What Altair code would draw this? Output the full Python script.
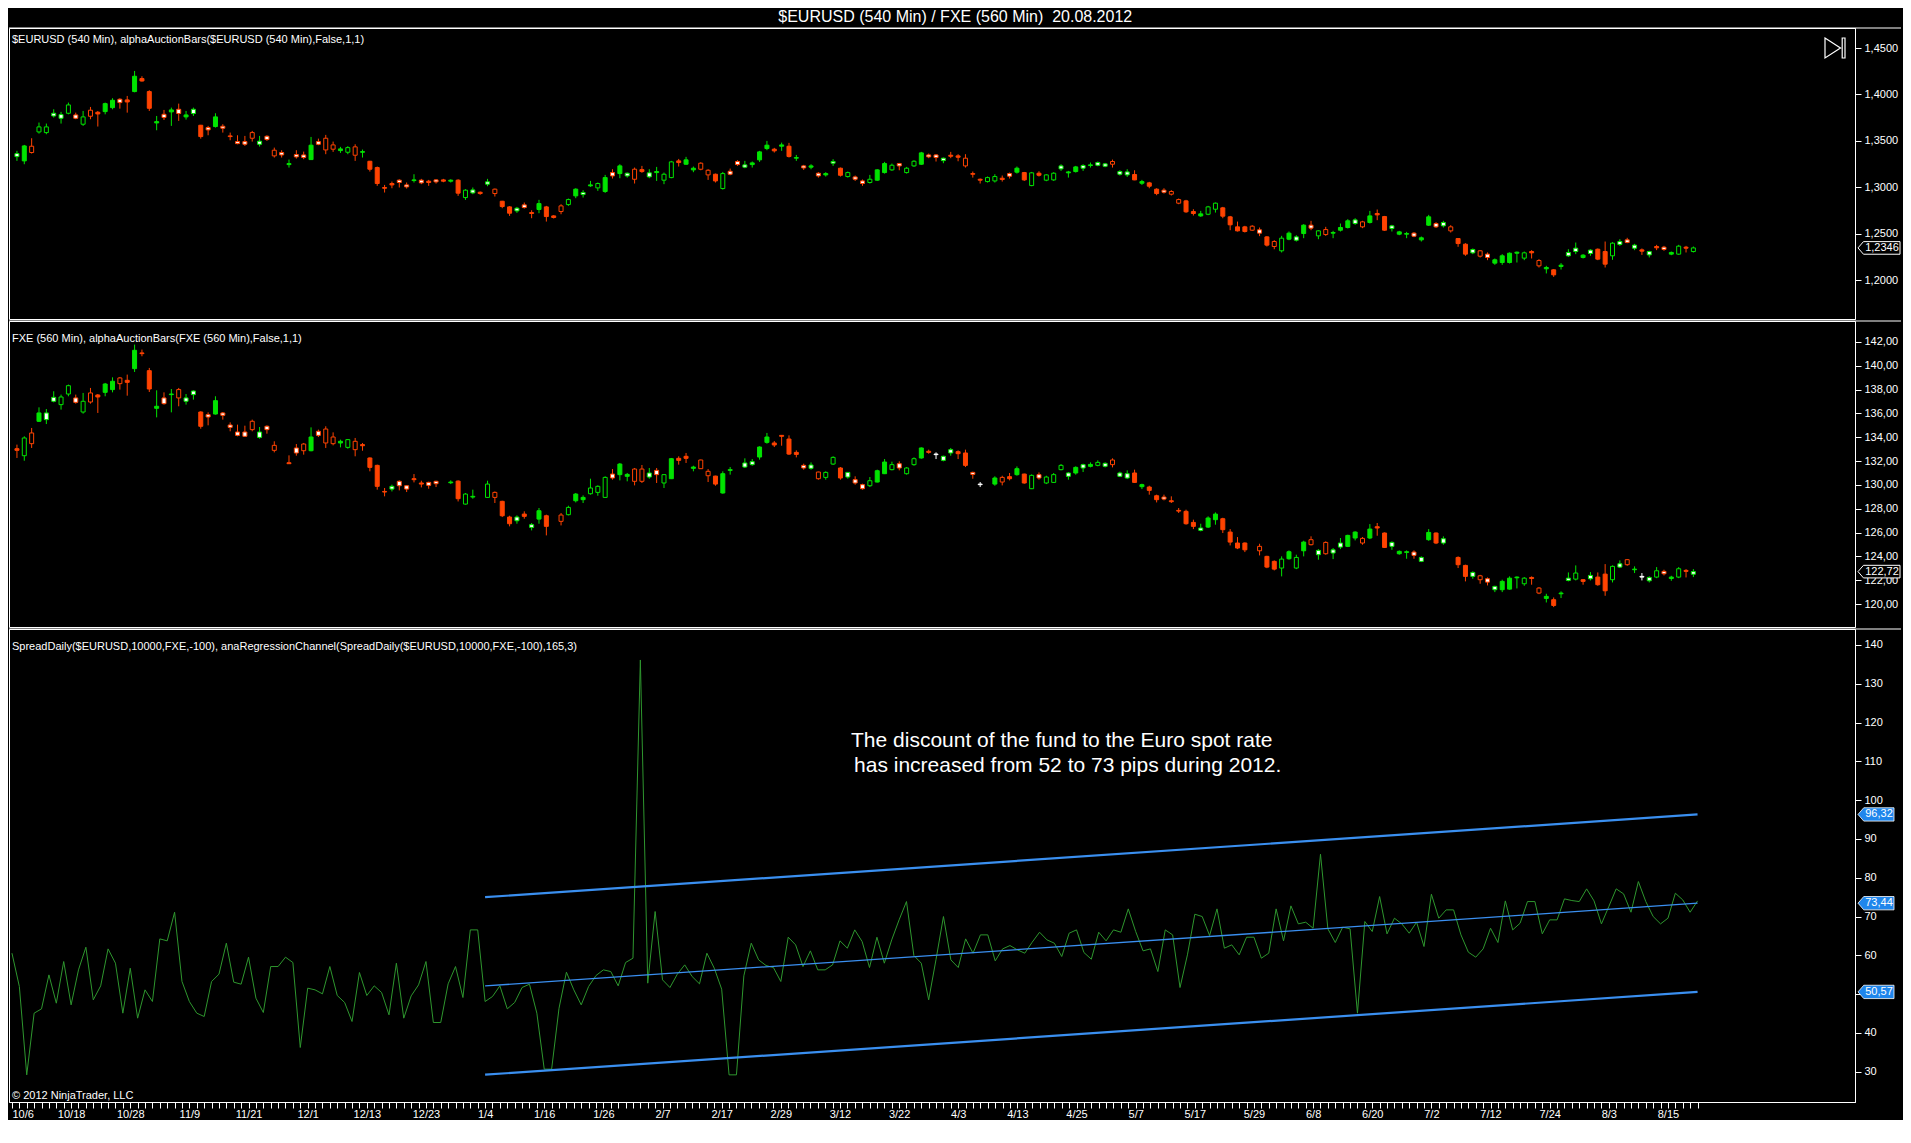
import json
import altair as alt
import pandas as pd

FONT = "Liberation Sans"
TITLE = "$EURUSD (540 Min) / FXE (560 Min)\u00a0 20.08.2012"
EUR_LABEL = "$EURUSD (540 Min), alphaAuctionBars($EURUSD (540 Min),False,1,1)"
FXE_LABEL = "FXE (560 Min), alphaAuctionBars(FXE (560 Min),False,1,1)"
SPREAD_LABEL = "SpreadDaily($EURUSD,10000,FXE,-100), anaRegressionChannel(SpreadDaily($EURUSD,10000,FXE,-100),165,3)"
NOTE_LINES = ["The discount of the fund to the Euro spot rate", "\u00a0has increased from 52 to 73 pips during 2012."]
NOTE_BAR = [142.0, 142.8]
NOTE_VAL = [115.2, 108.8]
COPYRIGHT = "\u00a9 2012 NinjaTrader, LLC"

# date labels, one every 8 bars
x_labels = ["10/6", "10/18", "10/28", "11/9", "11/21", "12/1", "12/13", "12/23", "1/4", "1/16",
            "1/26", "2/7", "2/17", "2/29", "3/12", "3/22", "4/3", "4/13", "4/25", "5/7",
            "5/17", "5/29", "6/8", "6/20", "7/2", "7/12", "7/24", "8/3", "8/15"]
LABEL_STEP = 8
N_BARS = 229

# ---------------- $EURUSD candles ----------------
eur_kind = """gW gF rH gH gH gW gW gH rW gH rH rF gF gF rW rF gF rF rF gF
rW gF rW gF gW rF rW gF rW rF rW rW rH gW rW rH rW gF rW rW
gF rW rH rH gF gH rH gF rF rF rF rF rW rW gF rW rF rW rF gF
rF gH gW rF gW rH rF rF gW rW rF gF rF rF rH gH gF gW gF gH
gF rW gF gW rH rF
gW gF gH gH rF gF gF rH rH rF gH rW rW gW gF gF gF rF gF rF gF rW gF
rW gF gW rF gH rW rW gH gF gF gH rW gH gH gF rW rW gW rF rF
rH rF rF gH gH rF rW gF rF gH rF gH gH gW gF gF gW gF gW gW
rH gW gW rF gF rF rF rW rH rH rF rF gF gH gH rF rF rF rF rH
rW rF rH
gH gF gW gF rW gH rH gF gF gF gW rH gF rF rF gW gF gF rW gF gF rW gW rH rF rF
gW rH rW gF gF gF gF gH rF rH gF rF gF gW gW gF gW rF rF gH
gW rW gW rF gW rF rW gF gH rF gH""".split()

eur_open = [1.3330, 1.3284, 1.3442, 1.3596, 1.3589, 1.3768, 1.3743, 1.3797, 1.3779, 1.3679,
    1.3830, 1.3808, 1.3815, 1.3858, 1.3948, 1.3941, 1.4031, 1.4171, 1.4031, 1.3693,
    1.3786, 1.3812, 1.3840, 1.3758, 1.3794, 1.3668, 1.3643, 1.3654, 1.3657, 1.3553,
    1.3492, 1.3492, 1.3589, 1.3463, 1.3549, 1.3399, 1.3374, 1.3244, 1.3352, 1.3348,
    1.3298, 1.3492, 1.3528, 1.3456, 1.3395, 1.3377, 1.3435, 1.3377, 1.3280, 1.3212,
    1.2997, 1.3040, 1.3076, 1.3025, 1.3072, 1.3076, 1.3065, 1.3079, 1.3079, 1.3065,
    1.3076, 1.2889, 1.2939, 1.2946, 1.3033, 1.2979, 1.2849, 1.2788, 1.2745, 1.2810,
    1.2727, 1.2760, 1.2788, 1.2691, 1.2799, 1.2813, 1.2907, 1.2921, 1.3015, 1.2993,
    1.2954, 1.3158, 1.3147, 1.3122, 1.3194, 1.3190,
    1.3112, 1.3158, 1.3076,
    1.3104, 1.3284, 1.3248, 1.3187, 1.3259, 1.3183, 1.3140, 1.2986, 1.3172, 1.3277,
    1.3216, 1.3244, 1.3295, 1.3417, 1.3410, 1.3442, 1.3442, 1.3313, 1.3230, 1.3216,
    1.3151, 1.3133, 1.3259, 1.3205, 1.3115, 1.3111, 1.3068, 1.3051, 1.3076, 1.3158,
    1.3187, 1.3255, 1.3158, 1.3230, 1.3248, 1.3348, 1.3348, 1.3287, 1.3345, 1.3338,
    1.3313, 1.3147, 1.3086, 1.3061, 1.3068, 1.3097, 1.3147, 1.3162, 1.3158, 1.3018,
    1.3151, 1.3076, 1.3079, 1.3198, 1.3155, 1.3169, 1.3205, 1.3234, 1.3237, 1.3226,
    1.3277, 1.3140, 1.3133, 1.3137, 1.3043, 1.3047, 1.2979, 1.2968, 1.2954, 1.2867,
    1.2853, 1.2738, 1.2691, 1.2709, 1.2763, 1.2778, 1.2681, 1.2573, 1.2573, 1.2580,
    1.2541, 1.2465, 1.2415,
    1.2315, 1.2440, 1.2429, 1.2501, 1.2591, 1.2476,
    1.2544, 1.2505, 1.2537, 1.2566, 1.2609, 1.2627, 1.2620, 1.2717, 1.2684, 1.2555,
    1.2494, 1.2494, 1.2505, 1.2433, 1.2591, 1.2609, 1.2584, 1.2573, 1.2447, 1.2386,
    1.2293, 1.2315, 1.2279, 1.2182, 1.2189, 1.2189, 1.2289, 1.2236, 1.2307, 1.2210,
    1.2121, 1.2110, 1.2146, 1.2261, 1.2307, 1.2243, 1.2286, 1.2332, 1.2307, 1.2261,
    1.2383, 1.2433, 1.2343, 1.2325, 1.2271, 1.2361, 1.2354, 1.2279, 1.2279, 1.2354,
    1.2307]

eur_high = [1.3392, 1.3456, 1.3528, 1.3697, 1.3686, 1.3840, 1.3812, 1.3912, 1.3804, 1.3822,
    1.3865, 1.3822, 1.3912, 1.3959, 1.3959, 1.3984, 1.4253, 1.4196, 1.4045, 1.3768,
    1.3833, 1.3858, 1.3901, 1.3822, 1.3858, 1.3672, 1.3661, 1.3797, 1.3679, 1.3589,
    1.3560, 1.3553, 1.3607, 1.3553, 1.3560, 1.3427, 1.3399, 1.3298, 1.3399, 1.3384,
    1.3542, 1.3524, 1.3564, 1.3492, 1.3435, 1.3442, 1.3463, 1.3406, 1.3284, 1.3223,
    1.3025, 1.3061, 1.3086, 1.3051, 1.3140, 1.3090, 1.3079, 1.3086, 1.3090, 1.3086,
    1.3086, 1.2979, 1.2997, 1.2954, 1.3090, 1.2986, 1.2853, 1.2796, 1.2788, 1.2835,
    1.2752, 1.2864, 1.2799, 1.2699, 1.2817, 1.2878, 1.2989, 1.2968, 1.3068, 1.3051,
    1.3133, 1.3194, 1.3248, 1.3158, 1.3212, 1.3230,
    1.3194, 1.3219, 1.3158,
    1.3284, 1.3305, 1.3327, 1.3223, 1.3269, 1.3194, 1.3147, 1.3165, 1.3201, 1.3291,
    1.3284, 1.3277, 1.3392, 1.3499, 1.3424, 1.3481, 1.3478, 1.3348, 1.3241, 1.3248,
    1.3162, 1.3162, 1.3302, 1.3212, 1.3169, 1.3126, 1.3083, 1.3133, 1.3194, 1.3273,
    1.3255, 1.3262, 1.3219, 1.3291, 1.3381, 1.3363, 1.3356, 1.3320, 1.3381, 1.3356,
    1.3356, 1.3169, 1.3094, 1.3115, 1.3140, 1.3126, 1.3158, 1.3223, 1.3165, 1.3165,
    1.3172, 1.3140, 1.3162, 1.3248, 1.3176, 1.3230, 1.3248, 1.3266, 1.3277, 1.3262,
    1.3298, 1.3183, 1.3194, 1.3183, 1.3079, 1.3058, 1.2989, 1.2989, 1.2968, 1.2878,
    1.2864, 1.2763, 1.2745, 1.2799, 1.2835, 1.2788, 1.2691, 1.2630, 1.2584, 1.2591,
    1.2566, 1.2473, 1.2429,
    1.2476, 1.2523, 1.2483, 1.2602, 1.2638, 1.2537,
    1.2573, 1.2530, 1.2609, 1.2656, 1.2666, 1.2638, 1.2745, 1.2760, 1.2691, 1.2595,
    1.2530, 1.2519, 1.2516, 1.2469, 1.2702, 1.2623, 1.2638, 1.2591, 1.2451, 1.2397,
    1.2340, 1.2322, 1.2297, 1.2232, 1.2279, 1.2297, 1.2307, 1.2307, 1.2322, 1.2225,
    1.2153, 1.2117, 1.2182, 1.2332, 1.2404, 1.2279, 1.2332, 1.2340, 1.2415, 1.2408,
    1.2440, 1.2455, 1.2390, 1.2340, 1.2315, 1.2379, 1.2368, 1.2307, 1.2379, 1.2368,
    1.2361]

eur_low = [1.3284, 1.3248, 1.3363, 1.3578, 1.3571, 1.3751, 1.3686, 1.3786, 1.3733, 1.3661,
    1.3733, 1.3654, 1.3786, 1.3840, 1.3847, 1.3804, 1.4023, 1.4138, 1.3822, 1.3614,
    1.3725, 1.3661, 1.3715, 1.3729, 1.3768, 1.3524, 1.3560, 1.3643, 1.3589, 1.3506,
    1.3463, 1.3445, 1.3492, 1.3438, 1.3499, 1.3320, 1.3320, 1.3212, 1.3309, 1.3302,
    1.3295, 1.3453, 1.3356, 1.3381, 1.3370, 1.3356, 1.3284, 1.3320, 1.3169, 1.3015,
    1.2943, 1.2989, 1.2997, 1.2986, 1.3051, 1.3033, 1.3015, 1.3040, 1.3054, 1.3051,
    1.2907, 1.2864, 1.2925, 1.2918, 1.3011, 1.2900, 1.2774, 1.2691, 1.2724, 1.2770,
    1.2666, 1.2720, 1.2630, 1.2663, 1.2709, 1.2799, 1.2882, 1.2889, 1.3004, 1.2961,
    1.2939, 1.3094, 1.3097, 1.3104, 1.3040, 1.3155,
    1.3097, 1.3068, 1.3033,
    1.3097, 1.3223, 1.3241, 1.3162, 1.3183, 1.3079, 1.3051, 1.2975, 1.3129, 1.3230,
    1.3205, 1.3212, 1.3273, 1.3399, 1.3374, 1.3392, 1.3320, 1.3284, 1.3187, 1.3194,
    1.3104, 1.3115, 1.3230, 1.3115, 1.3104, 1.3068, 1.3015, 1.3040, 1.3068, 1.3147,
    1.3176, 1.3183, 1.3147, 1.3219, 1.3241, 1.3313, 1.3277, 1.3259, 1.3313, 1.3280,
    1.3212, 1.3104, 1.3040, 1.3051, 1.3051, 1.3061, 1.3094, 1.3147, 1.3068, 1.3011,
    1.3115, 1.3065, 1.3068, 1.3176, 1.3104, 1.3158, 1.3176, 1.3212, 1.3226, 1.3216,
    1.3212, 1.3126, 1.3111, 1.3076, 1.3025, 1.2989, 1.2914, 1.2932, 1.2911, 1.2817,
    1.2724, 1.2695, 1.2681, 1.2699, 1.2727, 1.2666, 1.2537, 1.2523, 1.2512, 1.2530,
    1.2473, 1.2361, 1.2332,
    1.2297, 1.2429, 1.2415, 1.2451, 1.2537, 1.2440,
    1.2476, 1.2451, 1.2523, 1.2555, 1.2595, 1.2559, 1.2609, 1.2645, 1.2530, 1.2523,
    1.2483, 1.2451, 1.2462, 1.2415, 1.2584, 1.2562, 1.2566, 1.2512, 1.2358, 1.2261,
    1.2279, 1.2243, 1.2214, 1.2164, 1.2164, 1.2178, 1.2189, 1.2214, 1.2232, 1.2135,
    1.2071, 1.2034, 1.2113, 1.2250, 1.2279, 1.2232, 1.2261, 1.2214, 1.2135, 1.2218,
    1.2368, 1.2397, 1.2322, 1.2271, 1.2243, 1.2322, 1.2315, 1.2268, 1.2271, 1.2297,
    1.2297]

eur_close = [1.3363, 1.3445, 1.3374, 1.3650, 1.3650, 1.3797, 1.3783, 1.3887, 1.3743, 1.3758,
    1.3765, 1.3790, 1.3901, 1.3937, 1.3912, 1.3919, 1.4196, 1.4145, 1.3851, 1.3707,
    1.3751, 1.3833, 1.3794, 1.3779, 1.3840, 1.3546, 1.3618, 1.3758, 1.3636, 1.3546,
    1.3470, 1.3463, 1.3528, 1.3496, 1.3514, 1.3338, 1.3348, 1.3255, 1.3327, 1.3320,
    1.3453, 1.3463, 1.3402, 1.3410, 1.3413, 1.3427, 1.3345, 1.3384, 1.3194, 1.3040,
    1.2989, 1.3025, 1.3051, 1.3004, 1.3079, 1.3047, 1.3051, 1.3058, 1.3065, 1.3076,
    1.2936, 1.2968, 1.2971, 1.2932, 1.3058, 1.2932, 1.2792, 1.2720, 1.2774, 1.2781,
    1.2717, 1.2824, 1.2684, 1.2674, 1.2738, 1.2867, 1.2979, 1.2943, 1.3025, 1.3040,
    1.3104, 1.3122, 1.3230, 1.3151, 1.3086, 1.3169,
    1.3155, 1.3169, 1.3140,
    1.3273, 1.3266, 1.3295, 1.3205, 1.3194, 1.3133, 1.3068, 1.3147, 1.3140, 1.3244,
    1.3241, 1.3262, 1.3381, 1.3453, 1.3392, 1.3456, 1.3331, 1.3320, 1.3208, 1.3230,
    1.3122, 1.3147, 1.3277, 1.3129, 1.3158, 1.3086, 1.3040, 1.3086, 1.3187, 1.3255,
    1.3237, 1.3230, 1.3205, 1.3280, 1.3370, 1.3327, 1.3320, 1.3313, 1.3334, 1.3323,
    1.3230, 1.3140, 1.3076, 1.3104, 1.3115, 1.3083, 1.3119, 1.3205, 1.3079, 1.3155,
    1.3129, 1.3133, 1.3151, 1.3230, 1.3165, 1.3219, 1.3234, 1.3241, 1.3266, 1.3252,
    1.3248, 1.3169, 1.3165, 1.3079, 1.3061, 1.3011, 1.2932, 1.2946, 1.2925, 1.2828,
    1.2735, 1.2717, 1.2713, 1.2788, 1.2828, 1.2688, 1.2595, 1.2530, 1.2523, 1.2537,
    1.2505, 1.2376, 1.2361,
    1.2451, 1.2505, 1.2465, 1.2591, 1.2559, 1.2530,
    1.2490, 1.2512, 1.2566, 1.2638, 1.2648, 1.2573, 1.2691, 1.2702, 1.2537, 1.2584,
    1.2519, 1.2501, 1.2472, 1.2455, 1.2681, 1.2573, 1.2620, 1.2530, 1.2393, 1.2279,
    1.2329, 1.2257, 1.2243, 1.2218, 1.2261, 1.2289, 1.2300, 1.2293, 1.2293, 1.2153,
    1.2135, 1.2056, 1.2160, 1.2297, 1.2343, 1.2268, 1.2322, 1.2225, 1.2171, 1.2397,
    1.2415, 1.2404, 1.2376, 1.2311, 1.2307, 1.2347, 1.2329, 1.2297, 1.2365, 1.2343,
    1.2346]

# ---------------- FXE candles (None = no bar) ----------------
fxe_kind = """rF gH rH gF gW gW gH gH rW gH rH rF gF gF rH rF gF rF rF gF
rW gF rH gW gW rF rW gF rW rW rW rW rH gW rW rH -- rF rW rH
gF rW rH rH gF gH rH rF rF rF rF gW rW rW rF rF rW rW -- gF
rF gH gF -- gH rH rF rF gW rF gW gF rF -- rH gH gF gF gH gH
gH rW gF gF rH rH
gW rW gH gF rF rF gF rH rH rF gF gF -- gW gW gF gF rF rF rF rF rW gW
rH gH gH rF gW rW rW gH gF gF gH rW gH gH gF rF wF gW gW rF
rF rW wF -- gF rH rF gF rF gH rW gH gH gH gW gF gW gF gH gW
rH gW gW rF gF rF rF rW rF rF rF rF gW gF gF rF rF rF rF --
rH rF rF
gH gF gH gF rH gW rH gW gW gF gF rH gF rF rF gW gF gF rW gW gF rF gW -- rF rF
gW rH rW gW gF gF gF gH rF rH gF rF gF gW gH rF gW rF rF gH
gW rH gF wF gW gH rW gF gH rF gW""".split()

fxe_open = [133.04, 132.45, 134.36, 135.34, 135.48, 137.02, 136.74, 137.63, 137.30, 136.12,
    137.72, 137.55, 137.77, 138.00, 138.98, 138.78, 139.76, 141.08, 139.59, 136.43,
    137.30, 137.58, 138.00, 137.02, 137.58, 136.12, 135.90, 135.95, 136.04, 135.03,
    134.44, 134.44, 135.34, 133.99, 134.92, 133.32, None, 131.86, 133.10, 133.43,
    132.87, 134.50, 134.69, 134.02, 133.52, 133.15, 133.66, 133.38, 132.26, 131.64,
    129.45, 129.65, 130.30, 129.93, 130.52, 130.16, 130.21, 130.30, None, 130.18,
    130.32, 128.39, 128.98, None, 128.95, 129.37, 128.62, 127.30, 126.99, 127.55,
    126.43, 127.13, 127.41, None, 127.47, 127.50, 128.67, 128.76, 129.26, 129.37,
    128.95, 130.91, 130.86, 130.72, 131.33, 131.33,
    130.66, 131.22, 130.16,
    130.52, 132.23, 132.40, 131.39, 132.09, 131.14, 130.74, 129.32, 131.22, None,
    131.50, 131.70, 132.34, 133.57, 133.52, 134.16, 133.85, 132.73, 131.64, 131.39,
    131.08, 130.63, 131.75, 131.42, 130.66, 130.44, 130.02, 129.93, 130.24, 130.94,
    131.28, 131.78, 130.94, 131.70, 132.26, 132.82, 132.59, 132.06, 132.68, 132.79,
    132.68, 131.05, 130.07, None, 130.07, 130.63, 130.69, 130.86, 130.91, 129.68,
    130.86, 130.16, 130.21, 131.28, 130.72, 131.00, 131.42, 131.56, 131.64, 131.56,
    132.09, 130.72, 130.58, 131.00, 129.85, 129.82, 129.09, 128.98, 128.67, 127.86,
    127.78, 126.85, 126.18, 126.46, 127.08, 127.16, 126.04, 125.12, 125.12, None,
    124.84, 124.00, 123.58,
    123.02, 123.80, 123.02, 124.47, 125.40, 124.14,
    125.17, 124.28, 124.78, 124.84, 125.54, 125.51, 125.54, 126.49, 125.96, 124.84,
    124.22, 124.33, 124.36, 123.58, 125.40, 125.96, 125.12, None, 123.91, 123.24,
    122.32, 122.37, 122.12, 121.20, 121.20, 121.25, 122.20, 121.70, 122.23, 121.34,
    120.47, 120.36, 120.86, 121.98, 122.09, 122.04, 122.12, 122.26, 122.51, 122.04,
    123.10, 123.72, 122.88, 122.32, 121.95, 122.26, 122.74, 122.14, 122.26, 122.82,
    122.50]

fxe_high = [133.38, 134.08, 134.78, 136.51, 136.37, 137.86, 137.58, 138.42, 137.58, 137.72,
    138.14, 137.63, 138.56, 139.03, 139.06, 139.26, 141.78, 141.36, 139.82, 137.94,
    137.77, 138.05, 138.14, 137.63, 137.94, 136.18, 136.09, 137.44, 136.12, 135.25,
    135.06, 134.97, 135.48, 134.86, 135.00, 133.66, None, 132.48, 133.43, 133.52,
    134.83, 134.64, 134.92, 134.41, 133.80, 133.85, 133.94, 133.52, 132.31, 131.70,
    129.74, 130.02, 130.38, 129.96, 130.91, 130.35, 130.27, 130.35, None, 130.38,
    130.38, 129.32, 129.60, None, 130.35, 129.45, 128.67, 127.41, 127.44, 127.78,
    126.80, 128.06, 127.50, None, 127.64, 128.25, 129.32, 129.12, 130.52, 129.96,
    130.72, 131.33, 131.84, 131.00, 131.42, 131.67,
    131.42, 131.42, 130.91,
    132.26, 132.40, 132.68, 131.61, 132.12, 131.33, 130.77, 131.14, 131.50, None,
    132.23, 132.17, 133.24, 134.36, 133.68, 134.19, 134.16, 132.90, 131.78, 131.89,
    131.11, 131.14, 132.40, 131.50, 131.08, 130.72, 130.10, 130.66, 131.28, 132.17,
    131.95, 131.98, 131.50, 132.31, 133.15, 132.96, 132.73, 132.45, 133.10, 132.90,
    132.96, 131.11, 130.24, None, 130.72, 130.77, 131.00, 131.55, 130.94, 130.88,
    131.05, 130.77, 131.00, 131.75, 131.08, 131.56, 131.78, 131.89, 132.06, 131.89,
    132.23, 131.11, 131.22, 131.28, 130.10, 129.93, 129.18, 129.18, 129.04, 128.06,
    127.92, 127.08, 126.74, 127.36, 127.69, 127.24, 126.29, 125.62, 125.17, None,
    125.06, 124.05, 123.66,
    124.00, 124.50, 124.14, 125.31, 125.68, 124.61,
    125.26, 124.70, 125.54, 125.82, 126.10, 125.62, 126.71, 126.80, 126.01, 125.26,
    124.50, 124.50, 124.50, 124.00, 126.29, 126.01, 125.68, None, 124.00, 123.30,
    122.74, 122.45, 122.23, 121.53, 122.04, 122.32, 122.32, 122.26, 122.32, 121.42,
    120.86, 120.55, 121.06, 122.65, 123.24, 122.09, 122.68, 122.65, 123.35, 123.24,
    123.66, 123.77, 123.16, 122.60, 122.32, 123.10, 122.88, 122.37, 123.10, 122.93,
    122.93]

fxe_low = [132.26, 132.03, 133.10, 135.28, 135.11, 136.93, 136.32, 137.44, 136.82, 135.98,
    136.82, 136.04, 137.44, 137.77, 138.00, 137.49, 139.48, 140.80, 137.80, 135.67,
    136.74, 136.09, 136.60, 136.74, 137.16, 134.72, 135.00, 135.90, 135.48, 134.50,
    134.08, 134.02, 134.50, 133.88, 134.30, 132.73, None, 131.78, 132.45, 132.54,
    132.82, 134.02, 133.10, 133.32, 133.15, 133.04, 132.40, 132.87, 131.14, 129.60,
    129.04, 129.45, 129.54, 129.40, 130.21, 129.79, 129.68, 129.82, None, 130.07,
    128.61, 128.34, 128.84, None, 128.90, 128.48, 127.30, 126.52, 126.74, 127.16,
    126.18, 126.74, 125.76, None, 126.60, 127.44, 128.53, 128.48, 129.18, 129.09,
    128.90, 130.44, 130.38, 130.30, 129.96, 130.16,
    130.52, 130.16, 129.74,
    130.49, 131.70, 131.84, 131.14, 131.33, 130.24, 129.93, 129.26, 130.86, None,
    131.42, 131.61, 132.12, 133.46, 133.18, 133.29, 132.51, 132.31, 131.28, 131.28,
    130.44, 130.44, 131.67, 130.44, 130.52, 130.02, 129.60, 129.82, 130.21, 130.91,
    131.22, 131.22, 130.86, 131.61, 132.20, 132.62, 132.17, 131.98, 132.45, 132.17,
    131.50, 130.52, 129.82, None, 129.93, 129.96, 130.38, 130.77, 130.10, 129.65,
    130.44, 130.07, 130.16, 131.22, 130.44, 130.86, 131.08, 131.47, 131.56, 131.47,
    131.47, 130.66, 130.49, 130.16, 129.65, 129.18, 128.53, 128.70, 128.48, 127.64,
    126.66, 126.29, 126.10, 126.38, 126.66, 125.96, 124.92, 124.61, 124.36, None,
    124.08, 123.01, 122.82,
    122.32, 123.72, 122.93, 124.00, 124.92, 123.72,
    124.14, 123.77, 124.61, 124.78, 125.34, 124.98, 125.45, 125.73, 124.70, 124.55,
    124.14, 123.80, 123.80, 123.52, 125.31, 125.03, 124.98, None, 123.02, 121.90,
    122.12, 121.70, 121.56, 121.00, 121.00, 121.20, 121.31, 121.53, 121.62, 120.83,
    120.13, 119.74, 120.50, 121.90, 121.98, 121.62, 121.98, 121.53, 120.69, 121.81,
    123.02, 123.21, 122.60, 121.98, 121.81, 122.17, 122.40, 121.95, 122.17, 122.23,
    122.26]

fxe_close = [132.90, 133.94, 133.46, 136.04, 136.04, 137.35, 137.38, 138.33, 136.93, 137.02,
    136.96, 137.38, 138.47, 138.70, 138.50, 138.61, 141.30, 141.02, 138.05, 136.60,
    136.82, 137.63, 137.30, 137.30, 137.88, 134.92, 135.70, 137.07, 135.84, 134.83,
    134.16, 134.08, 134.64, 134.44, 134.64, 132.90, None, 131.78, 132.68, 132.87,
    134.02, 134.16, 133.52, 133.46, 133.66, 133.80, 132.96, 133.29, 131.47, 129.88,
    129.40, 129.88, 129.93, 129.65, 130.44, 130.07, 129.96, 130.10, None, 130.24,
    128.84, 129.23, 129.04, None, 130.07, 128.95, 127.41, 126.74, 127.30, 127.36,
    126.66, 127.83, 126.52, None, 126.94, 128.11, 129.23, 128.95, 129.74, 129.88,
    130.63, 130.58, 131.75, 130.88, 130.30, 130.30,
    131.00, 130.86, 130.86,
    132.20, 132.06, 132.23, 131.50, 131.36, 130.77, 130.07, 130.94, 131.28, None,
    131.84, 131.95, 133.18, 134.02, 133.35, 134.08, 132.59, 132.56, 131.42, 131.67,
    130.52, 131.05, 132.31, 130.58, 131.05, 130.16, 129.68, 130.35, 131.19, 131.92,
    131.70, 131.42, 131.42, 132.20, 133.10, 132.73, 132.54, 132.40, 132.96, 132.62,
    131.64, 130.88, 130.02, None, 130.58, 130.24, 130.52, 131.36, 130.16, 130.80,
    130.58, 130.66, 130.86, 131.64, 131.00, 131.47, 131.70, 131.72, 131.89, 131.81,
    131.70, 131.00, 130.94, 130.21, 130.02, 129.54, 128.76, 128.81, 128.59, 127.80,
    126.74, 126.52, 126.38, 127.22, 127.55, 126.24, 125.20, 124.70, 124.55, None,
    124.47, 123.10, 122.93,
    123.77, 124.39, 123.91, 125.20, 124.98, 124.50,
    124.22, 124.55, 125.12, 125.76, 126.04, 125.12, 126.29, 126.38, 124.75, 125.17,
    124.42, 124.39, 124.08, 123.91, 126.01, 125.12, 125.48, None, 123.30, 122.32,
    122.65, 122.04, 121.84, 121.48, 121.90, 122.17, 122.26, 122.17, 122.14, 120.92,
    120.64, 119.88, 120.92, 122.17, 122.60, 121.90, 122.40, 121.62, 121.11, 123.16,
    123.38, 123.30, 122.93, 122.26, 122.23, 122.79, 122.54, 122.26, 122.96, 122.74,
    122.72]

# ---------------- Spread (pips) ----------------
spread = [60.55, 51.96, 29.19, 45.09, 46.20, 54.96, 47.66, 58.40, 47.23, 56.25,
    62.09, 48.52, 52.13, 61.66, 57.97, 45.09, 56.68, 43.80, 51.10, 48.09,
    64.24, 63.73, 71.11, 53.25, 48.09, 45.09, 44.23, 53.25, 55.14, 63.13,
    53.08, 52.56, 59.52, 48.95, 45.26, 57.11, 57.11, 59.52, 58.14, 36.24,
    51.53, 51.10, 50.07, 57.11, 49.64, 47.84, 42.94, 55.57, 49.64, 52.13,
    50.41, 44.66, 57.97, 43.80, 49.55, 52.39, 58.40, 42.68, 42.68, 52.65,
    57.11, 49.12, 66.56, 66.56, 48.09, 49.38, 52.13, 46.20, 47.84, 51.70,
    52.56, 45.09, 30.66, 30.66, 46.37, 55.65, 51.10, 47.23, 51.96, 54.79,
    56.25, 55.82, 52.13, 58.14, 59.26, 136.14,
    52.82, 71.29, 53.68, 51.70, 55.14, 57.54, 54.54, 52.65, 60.55, 56.68,
    51.27, 29.19, 29.19, 54.71, 63.13, 58.83, 57.37, 56.85, 53.25, 64.67,
    62.70, 57.11, 61.15, 56.25, 56.25, 57.54, 63.73, 61.84, 66.56, 63.55,
    56.85, 64.67, 57.97, 63.98, 69.14, 73.86, 59.95, 57.97, 48.52, 59.00,
    70.00, 58.83, 56.85, 64.24, 60.55, 65.27, 65.27, 58.57, 61.66, 62.52,
    61.41, 60.55, 63.38, 65.96, 63.98, 63.13, 59.69, 65.70, 66.56, 60.72,
    59.00, 65.96, 63.73, 66.56, 65.96, 71.97, 66.13, 61.15, 61.66, 55.82,
    66.56, 65.27, 51.70, 60.12, 70.60, 70.00, 65.10, 71.97, 61.84, 62.70,
    60.12, 64.67, 64.67, 59.26, 60.55, 71.97,
    63.73, 72.75, 68.11, 68.54, 66.99, 86.06, 66.82, 63.30, 67.25, 66.82,
    45.09, 68.71, 66.13, 75.15, 65.53, 69.57, 68.11, 65.70, 68.54, 62.27,
    75.75, 69.57, 71.72, 71.72, 65.27, 60.81, 59.52, 61.66, 66.99, 63.30,
    74.03, 66.56, 68.28, 73.86, 73.86, 65.53, 69.14, 69.14, 74.55, 74.12,
    73.86, 77.13, 74.03, 68.11, 72.57, 77.13, 75.84, 71.11, 79.02, 73.86,
    70.00, 68.11, 69.57, 76.01, 74.29, 71.11, 74.03]

# regression channel over the last 165 bars
channel_bars = [64, 228]
channel_mid = [52.10, 73.44]
channel_upper = [74.98, 96.32]
channel_lower = [29.23, 50.57]

eur_last = [1.2346]
eur_last_text = ["1,2346"]
fxe_last = [122.72]
fxe_last_text = ["122,72"]
channel_badges = [96.32, 73.44, 50.57]
channel_badges_text = ["96,32", "73,44", "50,57"]

eur_ticks = [1.20, 1.25, 1.30, 1.35, 1.40, 1.45]
fxe_ticks = [120, 122, 124, 126, 128, 130, 132, 134, 136, 138, 140, 142]
spread_ticks = [30, 40, 50, 60, 70, 80, 90, 100, 110, 120, 130, 140]
spread_hidden_tick = 50   # covered by the 50,57 marker in the reference

# ---------------- styling ----------------
GREEN = "#00e400"
RED = "#ff4300"
WHITE = "#ffffff"
BLUE = "#3a8ff0"
SPREAD_GREEN = "#2e962e"

W = 1846
H1, H2, H3 = 291, 306, 473
XDOM = [-0.4, 249.3]
EUR_DOM = [1.158, 1.4716]
FXE_DOM = [118.07, 143.76]
SPR_DOM = [22.19, 144.12]

xscale = alt.Scale(domain=XDOM, nice=False, zero=False)


def candle_frame(kind, o, h, l, c):
    rows = []
    for i, (k, oo, hh, ll, cc) in enumerate(zip(kind, o, h, l, c)):
        if oo is None or k == "--":
            continue
        line = {"g": GREEN, "r": RED, "w": WHITE}[k[0]]
        fill = {"F": line, "H": "#000000", "W": "#ffffff"}[k[1]]
        rows.append({"bar": i, "open": oo, "high": hh, "low": ll, "close": cc,
                     "line": line, "fillc": fill})
    return pd.DataFrame(rows)


def y_axis(values, expr):
    return alt.Axis(orient="right", values=values, labelExpr=expr, labelColor="white",
                    labelFont=FONT, labelFontSize=11, tickColor="white", tickSize=6,
                    domainColor="white", grid=False, title=None, labelPadding=3,
                    labelOverlap=False)


labels_js = json.dumps(x_labels)
X_AXIS = alt.Axis(
    values=list(range(N_BARS)),
    labelExpr=f"datum.value % {LABEL_STEP} === 0 ? {labels_js}[datum.value / {LABEL_STEP}] : ''",
    labelColor="white", labelFont=FONT, labelFontSize=11, tickColor="white", tickSize=6,
    domainColor="white", grid=False, title=None, labelOverlap=False, labelFlush=15,
    labelPadding=0,
)

BADGE_WHITE = "M-1,0L-0.74,-0.3L1,-0.3L1,0.3L-0.74,0.3Z"
BADGE_BLUE = "M-1,0L-0.68,-0.37L1,-0.37L1,0.37L-0.68,0.37Z"


def header(text, ypos):
    return alt.Chart(pd.DataFrame({"t": [text]})).mark_text(
        align="left", baseline="middle", color="white", font=FONT, fontSize=11
    ).encode(x=alt.value(3), y=alt.value(ypos), text="t:N")


def top_line():
    return alt.Chart(pd.DataFrame({"k": [0]})).mark_rule(color="white", strokeWidth=1).encode(
        x=alt.value(0), x2=alt.value(W + 46), y=alt.value(0))


def candle_panel(df, ydom, ticks, expr, height, label, label_y, last_v, last_t):
    ys = alt.Scale(domain=ydom, nice=False, zero=False)
    yax = y_axis(ticks, expr)
    base = alt.Chart(df)
    wick = base.mark_rule(strokeWidth=1).encode(
        x=alt.X("bar:Q", scale=xscale, axis=None),
        y=alt.Y("low:Q", scale=ys, axis=yax),
        y2="high:Q",
        color=alt.Color("line:N", scale=None),
    )
    body = base.mark_bar(size=4, strokeWidth=1).encode(
        x=alt.X("bar:Q", scale=xscale, axis=None),
        y=alt.Y("open:Q", scale=ys, axis=yax),
        y2="close:Q",
        fill=alt.Fill("fillc:N", scale=None),
        stroke=alt.Stroke("line:N", scale=None),
    )
    bdf = pd.DataFrame({"v": last_v, "t": last_t})
    badge = alt.Chart(bdf).mark_point(
        shape=BADGE_WHITE, size=1764, filled=True, fill="#000000", stroke="white",
        strokeWidth=1, opacity=1
    ).encode(x=alt.value(W + 24), y=alt.Y("v:Q", scale=ys, axis=yax))
    btxt = alt.Chart(bdf).mark_text(
        color="white", font=FONT, fontSize=11, align="center", baseline="middle"
    ).encode(x=alt.value(W + 27), y=alt.Y("v:Q", scale=ys, axis=yax), text="t:N")
    return alt.layer(wick, body, badge, btxt, header(label, label_y), top_line()).properties(
        width=W, height=height)


eur_df = candle_frame(eur_kind, eur_open, eur_high, eur_low, eur_close)
fxe_df = candle_frame(fxe_kind, fxe_open, fxe_high, fxe_low, fxe_close)

p1 = candle_panel(eur_df, EUR_DOM, eur_ticks, "replace(format(datum.value, '.4f'), '.', ',')",
                  H1, EUR_LABEL, 12, eur_last, eur_last_text)
icon = alt.Chart(pd.DataFrame({"k": [0]})).mark_point(
    shape="M-1,-1L0.55,0L-1,1Z M0.72,-1L1,-1L1,1L0.72,1Z", size=400, filled=False,
    stroke="white", strokeWidth=1.2, opacity=1
).encode(x=alt.value(W - 20), y=alt.value(20))
p1 = alt.layer(p1, icon)

p2 = candle_panel(fxe_df, FXE_DOM, fxe_ticks, "replace(format(datum.value, '.2f'), '.', ',')",
                  H2, FXE_LABEL, 18, fxe_last, fxe_last_text)

# ---------------- spread panel ----------------
ys3 = alt.Scale(domain=SPR_DOM, nice=False, zero=False)
Y3_AXIS = y_axis(spread_ticks,
                 f"datum.value === {spread_hidden_tick} ? '' : format(datum.value, 'd')")

spread_df = pd.DataFrame({"bar": list(range(len(spread))), "v": spread})
spread_line = alt.Chart(spread_df).mark_line(color=SPREAD_GREEN, strokeWidth=1).encode(
    x=alt.X("bar:Q", scale=xscale, axis=X_AXIS),
    y=alt.Y("v:Q", scale=ys3, axis=Y3_AXIS),
)
chan_rows = []
for name, vals, sw in (("upper", channel_upper, 2.2), ("mid", channel_mid, 1.3), ("lower", channel_lower, 2.2)):
    for b, v in zip(channel_bars, vals):
        chan_rows.append({"bar": b, "v": v, "band": name, "sw": sw})
chan_df = pd.DataFrame(chan_rows)
channel = alt.Chart(chan_df).mark_line(color=BLUE).encode(
    x=alt.X("bar:Q", scale=xscale, axis=X_AXIS),
    y=alt.Y("v:Q", scale=ys3, axis=Y3_AXIS),
    detail="band:N",
    strokeWidth=alt.StrokeWidth("sw:Q", scale=None),
)
cb_df = pd.DataFrame({"v": channel_badges, "t": channel_badges_text})
cbadge = alt.Chart(cb_df).mark_point(
    shape=BADGE_BLUE, size=1296, filled=True, fill="#1f86ec", stroke="#ffffff",
    strokeWidth=0.8, opacity=1
).encode(x=alt.value(W + 21), y=alt.Y("v:Q", scale=ys3, axis=Y3_AXIS))
cbtxt = alt.Chart(cb_df).mark_text(
    color="white", font=FONT, fontSize=11, align="center", baseline="middle"
).encode(x=alt.value(W + 24), y=alt.Y("v:Q", scale=ys3, axis=Y3_AXIS), text="t:N")
note_df = pd.DataFrame({"bar": NOTE_BAR, "v": NOTE_VAL, "t": NOTE_LINES})
note = alt.Chart(note_df).mark_text(
    color="white", font=FONT, fontSize=21, align="center", baseline="middle"
).encode(x=alt.X("bar:Q", scale=xscale, axis=X_AXIS),
         y=alt.Y("v:Q", scale=ys3, axis=Y3_AXIS), text="t:N")
copy_txt = alt.Chart(pd.DataFrame({"t": [COPYRIGHT]})).mark_text(
    align="left", baseline="middle", color="white", font=FONT, fontSize=11
).encode(x=alt.value(3), y=alt.value(H3 - 6), text="t:N")

p3 = alt.layer(spread_line, channel, cbadge, cbtxt, note, copy_txt,
               header(SPREAD_LABEL, 18), top_line()).properties(width=W, height=H3)

chart = alt.vconcat(
    p1, p2, p3, spacing=0,
    title=alt.TitleParams(TITLE, color="white", font=FONT, fontSize=16, fontWeight="normal",
                          anchor="middle", offset=2),
).resolve_scale(y="independent").properties(
    background="#000000", padding={"top": 1, "left": 0, "right": 0, "bottom": 0}
).configure_view(stroke="white", strokeWidth=1)

chart.save("out.html", embed_options={"renderer": "svg", "actions": False})
